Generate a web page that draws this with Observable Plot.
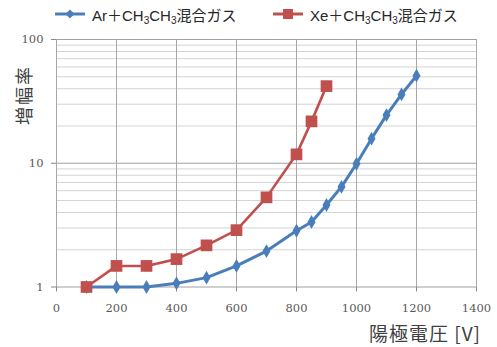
<!DOCTYPE html>
<html>
<head>
<meta charset="utf-8">
<script src="https://cdn.jsdelivr.net/npm/d3@7"></script>
<script src="https://cdn.jsdelivr.net/npm/@observablehq/plot@0.6"></script>
<style>
  html, body { margin: 0; padding: 0; background: #fff; }
  #wrap { position: relative; width: 497px; height: 347px; overflow: hidden; }
  #legend { position: absolute; top: 3px; left: 0; width: 497px; height: 24px;
    font-family: Arial, "Liberation Sans", "Noto Sans CJK JP", sans-serif; font-size: 15px; color: #262626; }
  .item { position: absolute; top: 0; display: flex; align-items: center; height: 22px; white-space: nowrap; }
  .item svg { margin-right: 7px; }
  sub { font-size: 10px; vertical-align: -3px; line-height: 0; }
  #ylab { position: absolute; left: 23px; top: 95px; transform: translate(-50%, -50%) rotate(-90deg);
    font-family: "Noto Sans CJK JP", sans-serif; font-size: 18px; letter-spacing: 2px; color: #404040; white-space: nowrap; }
  #xlab { position: absolute; right: 16px; top: 319px;
    font-family: "Noto Sans CJK JP", sans-serif; font-size: 19px; letter-spacing: 1px; color: #404040; white-space: nowrap; }
</style>
</head>
<body>
<div id="wrap">
  <div id="chart"></div>
  <div id="legend"></div>
  <div id="ylab"></div>
  <div id="xlab"></div>
</div>
<script>
// ---- data ----
const seriesNames = ["Ar＋CH<sub>3</sub>CH<sub>3</sub>混合ガス", "Xe＋CH<sub>3</sub>CH<sub>3</sub>混合ガス"];
const arVoltage = [100, 200, 300, 400, 500, 600, 700, 800, 850, 900, 950, 1000, 1050, 1100, 1150, 1200];
const arGain    = [1, 1, 1, 1.07, 1.19, 1.48, 1.95, 2.85, 3.35, 4.6, 6.45, 9.9, 15.8, 24.5, 36, 51];
const xeVoltage = [100, 200, 300, 400, 500, 600, 700, 800, 850, 900];
const xeGain    = [1, 1.48, 1.48, 1.68, 2.17, 2.88, 5.3, 11.8, 21.8, 42];
const xTicks = [0, 200, 400, 600, 800, 1000, 1200, 1400];
const yTicks = [1, 10, 100];
const yMinor = [2,3,4,5,6,7,8,9,20,30,40,50,60,70,80,90];
const xLabel = "陽極電圧 [V]";
const yLabel = "増幅率";
const colors = ["#4a7ebb", "#c0504d"];

const ar = arVoltage.map((v, i) => ({v, g: arGain[i]}));
const xe = xeVoltage.map((v, i) => ({v, g: xeGain[i]}));

const chart = Plot.plot({
  width: 497, height: 347,
  marginLeft: 56, marginRight: 21, marginTop: 39, marginBottom: 60.5,
  style: {fontFamily: "'DejaVu Serif', serif", fontSize: "11.5px", color: "#595959", background: "#fff"},
  x: {domain: [0, 1400]},
  y: {type: "log", domain: [1, 100]},
  marks: [
    Plot.ruleY(yMinor, {stroke: "#d4d4d4", strokeWidth: 1}),
    Plot.ruleY(yTicks, {stroke: "#a0a0a0", strokeWidth: 1}),
    Plot.ruleX(xTicks, {stroke: "#a8a8a8", strokeWidth: 1}),
    Plot.axisX({ticks: xTicks, tickSize: 5, tickPadding: 12, label: null, tickFormat: d => String(d), stroke: "#888"}),
    Plot.axisY({ticks: yTicks, tickSize: 5, tickPadding: 8, label: null, tickFormat: d => String(d), stroke: "#888"}),
    Plot.line(ar, {x: "v", y: "g", stroke: colors[0], strokeWidth: 3}),
    Plot.dot(ar, {x: "v", y: "g", symbol: "diamond", fill: colors[0], r: 4.2}),
    Plot.line(xe, {x: "v", y: "g", stroke: colors[1], strokeWidth: 2.6}),
    Plot.dot(xe, {x: "v", y: "g", symbol: "square", fill: colors[1], r: 6.6})
  ]
});
document.getElementById("chart").appendChild(chart);

// legend
const legend = document.getElementById("legend");
const lefts = [55, 273];
const syms = [
  c => `<svg width="30" height="12"><line x1="0" y1="6" x2="30" y2="6" stroke="${c}" stroke-width="3"/><path d="M15 1.5 L19.5 6 L15 10.5 L10.5 6 Z" fill="${c}"/></svg>`,
  c => `<svg width="30" height="12"><line x1="0" y1="6" x2="30" y2="6" stroke="${c}" stroke-width="3"/><rect x="10" y="1" width="10" height="10" fill="${c}"/></svg>`
];
seriesNames.forEach((n, i) => {
  const d = document.createElement("div");
  d.className = "item";
  d.style.left = lefts[i] + "px";
  d.innerHTML = syms[i](colors[i]) + "<span>" + n + "</span>";
  legend.appendChild(d);
});
document.getElementById("ylab").textContent = yLabel;
document.getElementById("xlab").textContent = xLabel;
</script>
</body>
</html>
